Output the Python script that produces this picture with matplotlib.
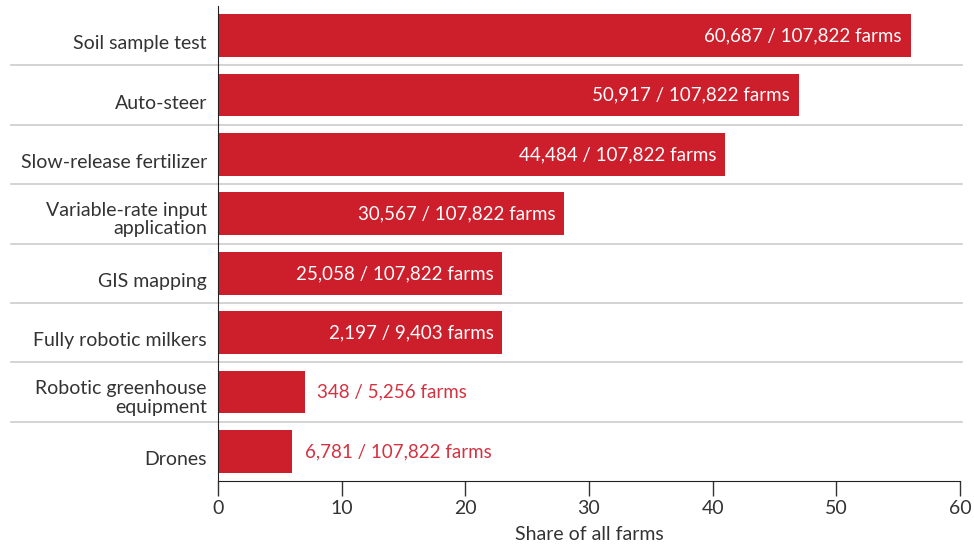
import matplotlib
matplotlib.use("Agg")
import matplotlib.pyplot as plt
from matplotlib.lines import Line2D
import matplotlib.transforms as mtransforms

plt.rcParams['font.family'] = ['Lato', 'DejaVu Sans']

categories = ["Soil sample test", "Auto-steer", "Slow-release fertilizer",
              "Variable-rate input\napplication", "GIS mapping",
              "Fully robotic milkers", "Robotic greenhouse\nequipment", "Drones"]
shares = [56, 47, 41, 28, 23, 23, 7, 6]
adopters = ["60,687", "50,917", "44,484", "30,567", "25,058", "2,197", "348", "6,781"]
totals = ["107,822", "107,822", "107,822", "107,822", "107,822", "9,403", "5,256", "107,822"]
xticks = [0, 10, 20, 30, 40, 50, 60]

bar_color = "#CD1F2B"
label_red = "#D33240"
text_color = "#333333"

W, H = 974, 544
fig = plt.figure(figsize=(W / 100, H / 100), dpi=100)
ax = fig.add_axes([218 / W, 1 - 481 / H, (960 - 218) / W, (481 - 6) / H])

y = list(range(len(categories)))
ax.barh(y, shares, height=0.72, color=bar_color, zorder=2)
ax.set_ylim(len(categories) - 0.5, -0.5)
ax.set_xlim(0, 60)

for i, (v, a, t) in enumerate(zip(shares, adopters, totals)):
    txt = f"{a} / {t} farms"
    if v >= 20:
        ax.annotate(txt, (v, i), xytext=(-6.5, -0.2), textcoords="offset points",
                    ha="right", va="center", color="white", fontsize=13.5)
    else:
        ax.annotate(txt, (v, i), xytext=(9, -0.2), textcoords="offset points",
                    ha="left", va="center", color=label_red, fontsize=13.5)

# row separators
for k in range(1, len(categories)):
    yy = k - 0.5
    ax.add_line(Line2D([-16.7, 60.2], [yy, yy], color="#CCCCCC", lw=1.2,
                       clip_on=False, zorder=1))

ax.set_yticks(y)
ax.set_yticklabels(categories, fontsize=14, color=text_color, linespacing=1.08)
ax.tick_params(axis="y", length=0, pad=8)
for lbl in ax.get_yticklabels():
    dy = 4.0 if "\n" in lbl.get_text() else 6.5
    offset = mtransforms.ScaledTranslation(0, -dy / 100, fig.dpi_scale_trans)
    lbl.set_transform(lbl.get_transform() + offset)
ax.set_xticks(xticks)
ax.set_xticklabels([str(x) for x in xticks], fontsize=14, color=text_color)
ax.tick_params(axis="x", length=11, width=1, color="#333333", pad=3)
ax.set_xlabel("Share of all farms", fontsize=14, color=text_color, labelpad=6.5)

for s in ["top", "right"]:
    ax.spines[s].set_visible(False)
ax.spines["left"].set_color("#222222")
ax.spines["bottom"].set_color("#222222")
ax.spines["left"].set_bounds(-0.5, 7.5)

fig.savefig("out.png", dpi=100)
